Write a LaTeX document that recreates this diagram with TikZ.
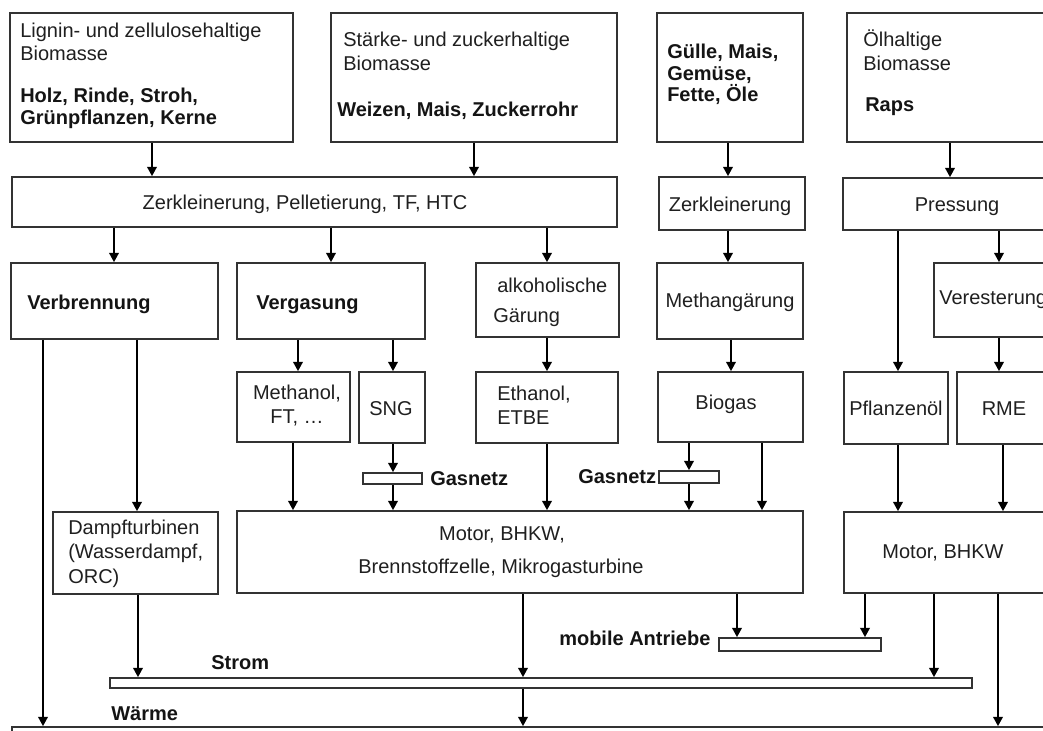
\documentclass[tikz,border=0pt]{standalone}
\usepackage{fontspec}
\setmainfont{Liberation Sans}
\usetikzlibrary{arrows.meta,fit}
\begin{document}
\begin{tikzpicture}[x=0.75pt,y=-0.75pt,
  box/.style={draw=black!80, line width=1.15pt, inner sep=0pt},
  txt/.style={inner sep=0pt, font=\fontsize{15}{17}\selectfont, text=black!88},
  btxt/.style={inner sep=0pt, font=\fontsize{15}{17}\selectfont\bfseries, text=black!92},
  arr/.style={line width=1.9pt, -{Triangle[width=7pt,length=7pt]}}]
\useasboundingbox (0,0) rectangle (1043,731);
\clip (0,0) rectangle (1043,731);
% boxes
\node[box, fit={(10,13) (293,142)}] (A) {};
\node[box, fit={(331,13) (617,142)}] (B) {};
\node[box, fit={(657,13) (803,142)}] (C) {};
\node[box, fit={(847,13) (1060,142)}] (D) {};
\node[box, fit={(12,177) (617,227)}] (Z1) {};
\node[box, fit={(659,177) (805,230)}] (Z2) {};
\node[box, fit={(843,178) (1060,230)}] (P) {};
\node[box, fit={(11,263) (218,339)}] (V1) {};
\node[box, fit={(237,263) (425,339)}] (V2) {};
\node[box, fit={(476,263) (619,337)}] (AG) {};
\node[box, fit={(657,263) (803,339)}] (MG) {};
\node[box, fit={(934,263) (1060,337)}] (VE) {};
\node[box, fit={(237,372) (350,442)}] (ME) {};
\node[box, fit={(359,372) (425,443)}] (SNG) {};
\node[box, fit={(476,372) (618,443)}] (ET) {};
\node[box, fit={(658,372) (803,442)}] (BG) {};
\node[box, fit={(844,372) (948,444)}] (PF) {};
\node[box, fit={(957,372) (1060,444)}] (RME) {};
\node[box, fit={(53,512) (218,594)}] (DT) {};
\node[box, fit={(237,511) (803,593)}] (MO) {};
\node[box, fit={(844,512) (1060,593)}] (MR) {};
% bars
\node[box, fit={(363,473) (422,484)}] (GL) {};
\node[box, fit={(659,471) (719,483)}] (GR) {};
\node[box, fit={(719,638) (881,651)}] (MA) {};
\node[box, fit={(110,678) (972,688)}] (ST) {};
\node[box, fit={(12,727) (1060,745)}] (WA) {};
% texts
\node[txt, anchor=base west] (tA1) at (20,38) {Lignin- und zellulosehaltige};
\node[txt, anchor=base west] (tA2) at (20,61) {Biomasse};
\node[btxt, anchor=base west] (tA3) at (20,103) {Holz, Rinde, Stroh,};
\node[btxt, anchor=base west] (tA4) at (20,125) {Grünpflanzen, Kerne};
\node[txt, anchor=base west] (tB1) at (343,47) {Stärke- und zuckerhaltige};
\node[txt, anchor=base west] (tB2) at (343,71) {Biomasse};
\node[btxt, anchor=base west] (tB3) at (337,117) {Weizen, Mais, Zuckerrohr};
\node[btxt, anchor=base west] (tC1) at (667,59) {Gülle, Mais,};
\node[btxt, anchor=base west] (tC2) at (667,80.5) {Gemüse,};
\node[btxt, anchor=base west] (tC3) at (667,102) {Fette, Öle};
\node[txt, anchor=base west] (tD1) at (863,47) {Ölhaltige};
\node[txt, anchor=base west] (tD2) at (863,71) {Biomasse};
\node[btxt, anchor=base west] (tD3) at (865,112) {Raps};
\node[txt, anchor=base] (tZ1) at (305,210) {Zerkleinerung, Pelletierung, TF, HTC};
\node[txt, anchor=base] (tZ2) at (730,212) {Zerkleinerung};
\node[txt, anchor=base] (tP) at (957,212) {Pressung};
\node[btxt, anchor=base west] (tV1) at (27,310) {Verbrennung};
\node[btxt, anchor=base west] (tV2) at (256,310) {Vergasung};
\node[txt, anchor=base west] (tAG1) at (497,292) {alkoholische};
\node[txt, anchor=base west] (tAG2) at (493,322) {Gärung};
\node[txt, anchor=base] (tMG) at (730,307) {Methangärung};
\node[txt, anchor=base west] (tVE) at (939,304) {Veresterung};
\node[txt, anchor=base] (tME1) at (297,399) {Methanol,};
\node[txt, anchor=base] (tME2) at (297,423) {FT, …};
\node[txt, anchor=base] (tSNG) at (391,415) {SNG};
\node[txt, anchor=base west] (tET1) at (497,400) {Ethanol,};
\node[txt, anchor=base west] (tET2) at (497,424) {ETBE};
\node[txt, anchor=base] (tBG) at (726,409) {Biogas};
\node[txt, anchor=base] (tPF) at (896,415) {Pflanzenöl};
\node[txt, anchor=base] (tRME) at (1004,415) {RME};
\node[txt, anchor=base west] (tDT1) at (68,534) {Dampfturbinen};
\node[txt, anchor=base west] (tDT2) at (68,558) {(Wasserdampf,};
\node[txt, anchor=base west] (tDT3) at (68,583) {ORC)};
\node[txt, anchor=base] (tMO1) at (502,540) {Motor, BHKW,};
\node[txt, anchor=base] (tMO2) at (501,573) {Brennstoffzelle, Mikrogasturbine};
\node[txt, anchor=base] (tMR) at (943,558) {Motor, BHKW};
\node[btxt, anchor=base west] (lGL) at (430,485) {Gasnetz};
\node[btxt, anchor=base west] (lGR) at (578,483) {Gasnetz};
\node[btxt, anchor=base west] (lMA) at (559,645) {mobile Antriebe};
\node[btxt, anchor=base west] (lST) at (211,669) {Strom};
\node[btxt, anchor=base west] (lWA) at (111,720) {Wärme};
% connectors
\draw[arr] (152,0 |- A.south) -- (152,0 |- Z1.north);
\draw[arr] (474,0 |- B.south) -- (474,0 |- Z1.north);
\draw[arr] (728,0 |- C.south) -- (728,0 |- Z2.north);
\draw[arr] (950,0 |- D.south) -- (950,0 |- P.north);
\draw[arr] (114,0 |- Z1.south) -- (114,0 |- V1.north);
\draw[arr] (331,0 |- Z1.south) -- (331,0 |- V2.north);
\draw[arr] (547,0 |- Z1.south) -- (547,0 |- AG.north);
\draw[arr] (728,0 |- Z2.south) -- (728,0 |- MG.north);
\draw[arr] (898,0 |- P.south) -- (898,0 |- PF.north);
\draw[arr] (999,0 |- P.south) -- (999,0 |- VE.north);
\draw[arr] (43,0 |- V1.south) -- (43,0 |- WA.north);
\draw[arr] (137,0 |- V1.south) -- (137,0 |- DT.north);
\draw[arr] (298,0 |- V2.south) -- (298,0 |- ME.north);
\draw[arr] (393,0 |- V2.south) -- (393,0 |- SNG.north);
\draw[arr] (547,0 |- AG.south) -- (547,0 |- ET.north);
\draw[arr] (731,0 |- MG.south) -- (731,0 |- BG.north);
\draw[arr] (999,0 |- VE.south) -- (999,0 |- RME.north);
\draw[arr] (293,0 |- ME.south) -- (293,0 |- MO.north);
\draw[arr] (393,0 |- SNG.south) -- (393,0 |- GL.north);
\draw[arr] (393,0 |- GL.south) -- (393,0 |- MO.north);
\draw[arr] (547,0 |- ET.south) -- (547,0 |- MO.north);
\draw[arr] (689,0 |- BG.south) -- (689,0 |- GR.north);
\draw[arr] (689,0 |- GR.south) -- (689,0 |- MO.north);
\draw[arr] (762,0 |- BG.south) -- (762,0 |- MO.north);
\draw[arr] (898,0 |- PF.south) -- (898,0 |- MR.north);
\draw[arr] (1003,0 |- RME.south) -- (1003,0 |- MR.north);
\draw[arr] (138,0 |- DT.south) -- (138,0 |- ST.north);
\draw[arr] (523,0 |- MO.south) -- (523,0 |- ST.north);
\draw[arr] (523,0 |- ST.south) -- (523,0 |- WA.north);
\draw[arr] (737,0 |- MO.south) -- (737,0 |- MA.north);
\draw[arr] (865,0 |- MR.south) -- (865,0 |- MA.north);
\draw[arr] (934,0 |- MR.south) -- (934,0 |- ST.north);
\draw[arr] (998,0 |- MR.south) -- (998,0 |- WA.north);
\end{tikzpicture}
\end{document}
